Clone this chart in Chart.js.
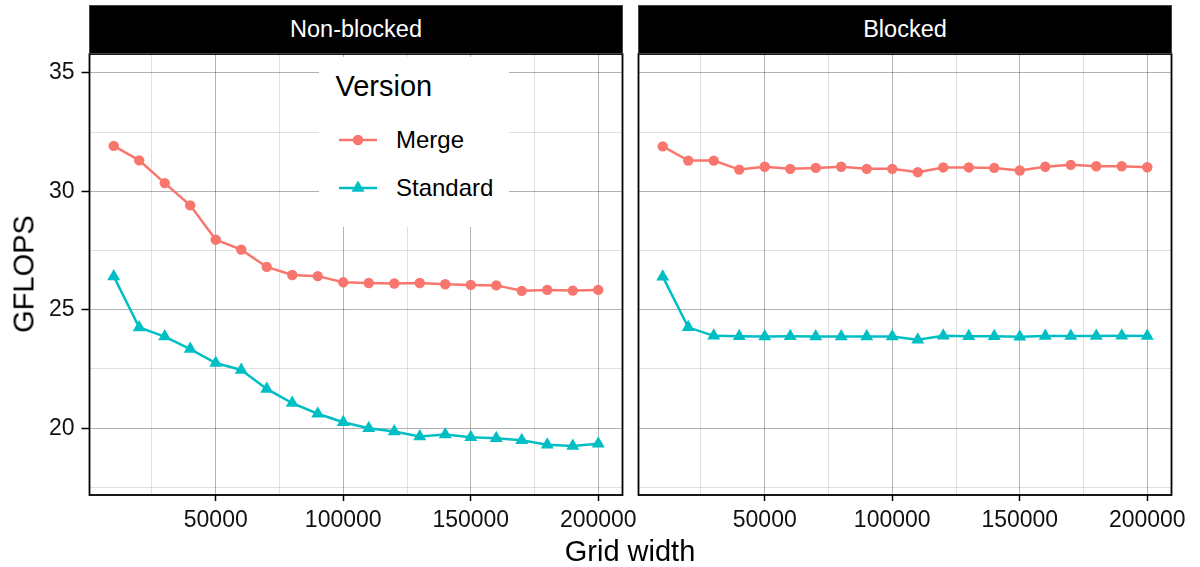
<!DOCTYPE html>
<html><head><meta charset="utf-8">
<script src="https://cdn.jsdelivr.net/npm/chart.js@4.4.1/dist/chart.umd.min.js"></script>
<style>
html,body{margin:0;padding:0;background:#fff;}
#wrap{position:relative;width:1200px;height:567px;overflow:hidden;font-family:'Liberation Sans',Arial,sans-serif;}
canvas{position:absolute;left:0;top:0;}
.txt{position:absolute;white-space:nowrap;color:#000;}
.strip{position:absolute;top:5px;height:49px;background:#000;color:#fff;box-sizing:border-box;border:1px solid #444;font-size:23.5px;line-height:47px;text-align:center;}
#legend{position:absolute;left:319px;top:57px;width:190px;height:170px;background:#fff;}
#legend .t{position:absolute;white-space:nowrap;color:#000;}
</style></head>
<body><div id="wrap">
<canvas id="c1" width="1200" height="567"></canvas>
<canvas id="c2" width="1200" height="567"></canvas>
<div class="strip" style="left:89px;width:534px;">Non-blocked</div>
<div class="strip" style="left:638px;width:534px;">Blocked</div>
<div id="legend">
  <div class="t" style="left:16.5px;top:15.2px;font-size:29px;line-height:29px;">Version</div>
  <svg style="position:absolute;left:0;top:0;" width="190" height="170">
    <line x1="20" y1="83" x2="58" y2="83" stroke="#F8766D" stroke-width="2.5"/>
    <circle cx="39" cy="83" r="5.2" fill="#F8766D"/>
    <line x1="20" y1="131" x2="58" y2="131" stroke="#00BFC4" stroke-width="2.5"/>
    <polygon points="39,123.5 45.5,134.75 32.5,134.75" fill="#00BFC4"/>
  </svg>
  <div class="t" style="left:77px;top:71px;font-size:24px;line-height:24px;">Merge</div>
  <div class="t" style="left:77px;top:119px;font-size:24px;line-height:24px;">Standard</div>
</div>
<div class="txt" style="left:24px;top:274px;font-size:29px;line-height:29px;transform:translate(-50%,-50%) rotate(-90deg);">GFLOPS</div>
<div class="txt" style="left:630px;top:537px;font-size:29px;line-height:29px;transform:translateX(-50%);">Grid width</div>
</div>
<script>
const gridWidth = [10000,20000,30000,40000,50000,60000,70000,80000,90000,100000,110000,120000,130000,140000,150000,160000,170000,180000,190000,200000];
const nonBlockedMerge = [31.92,31.31,30.35,29.41,27.96,27.54,26.81,26.47,26.42,26.16,26.13,26.11,26.13,26.08,26.05,26.03,25.80,25.84,25.81,25.84];
const nonBlockedStandard = [26.41,24.25,23.87,23.34,22.75,22.46,21.66,21.06,20.61,20.25,20.00,19.86,19.65,19.73,19.62,19.58,19.49,19.30,19.25,19.34];
const blockedMerge = [31.90,31.30,31.30,30.92,31.04,30.95,30.99,31.04,30.95,30.95,30.81,31.01,31.01,30.99,30.88,31.04,31.12,31.06,31.06,31.02];
const blockedStandard = [26.40,24.26,23.90,23.88,23.87,23.88,23.87,23.87,23.87,23.87,23.74,23.90,23.88,23.88,23.86,23.89,23.89,23.89,23.90,23.89];
const yMajor = [20,25,30,35];
const yMinor = [17.5,22.5,27.5,32.5];
const xMajor = [50000,100000,150000,200000];
const xMinor = [25000,75000,125000,175000];

const MERGE = '#F8766D', STD = '#00BFC4';
const FONT = "'Liberation Sans', Arial, sans-serif";
const MAJ = 'rgba(0,0,0,0.30)', MIN = 'rgba(0,0,0,0.12)';

function mkTicks(major, minor){
  return major.concat(minor).sort((a,b)=>a-b).map(v=>({value:v}));
}
const borderPlugin = {
  id:'panelBorder',
  afterDatasetsDraw(chart){
    const a = chart.chartArea, c = chart.ctx;
    c.save(); c.strokeStyle='#000'; c.lineWidth=1.8;
    c.strokeRect(a.left, a.top, a.right-a.left, a.bottom-a.top);
    c.restore();
  }
};

function makeChart(id, merge, std, showY, padLeft, padRight){
  return new Chart(document.getElementById(id), {
    type:'line',
    data:{datasets:[
      {label:'Merge', data: gridWidth.map((x,i)=>({x:x, y:merge[i]})), borderColor:MERGE, backgroundColor:MERGE,
       borderWidth:2.5, pointStyle:'circle', pointRadius:5.2, pointBorderWidth:0, pointBackgroundColor:MERGE, tension:0},
      {label:'Standard', data: gridWidth.map((x,i)=>({x:x, y:std[i]})), borderColor:STD, backgroundColor:STD,
       borderWidth:2.5, pointStyle:'triangle', pointRadius:7.5, pointBorderWidth:0, pointBackgroundColor:STD, tension:0}
    ]},
    options:{
      responsive:false, animation:false, events:[],
      layout:{padding:{left:padLeft, right:padRight, top:54, bottom:27}},
      plugins:{legend:{display:false}, tooltip:{enabled:false}},
      scales:{
        x:{type:'linear', min:500, max:209500,
          afterBuildTicks:s=>{s.ticks = mkTicks(xMajor,xMinor);},
          afterFit:s=>{s.height = 45;},
          border:{display:false},
          grid:{color:ctx=>xMajor.includes(ctx.tick && ctx.tick.value)?MAJ:MIN, lineWidth:1,
                drawTicks:true, tickLength:6,
                tickColor:ctx=>xMajor.includes(ctx.tick && ctx.tick.value)?'#000':'rgba(0,0,0,0)', tickWidth:1.5},
          ticks:{autoSkip:false, maxRotation:0, minRotation:0, padding:8, color:'#111',
                 font:{family:FONT, size:23, lineHeight:1},
                 callback:v=>xMajor.includes(v)?String(v):''}
        },
        y:{type:'linear', min:17.18, max:35.8,
          afterBuildTicks:s=>{s.ticks = mkTicks(yMajor,yMinor);},
          afterFit:s=>{s.width = showY?89.5:0;},
          border:{display:false},
          grid:{color:ctx=>yMajor.includes(ctx.tick && ctx.tick.value)?MAJ:MIN, lineWidth:1,
                drawTicks:showY, tickLength:8,
                tickColor:ctx=>yMajor.includes(ctx.tick && ctx.tick.value)?'#000':'rgba(0,0,0,0)', tickWidth:1.5},
          ticks:{display:showY, padding:7, color:'#111',
                 font:{family:FONT, size:23, lineHeight:1},
                 callback:v=>yMajor.includes(v)?String(v):''}
        }
      }
    },
    plugins:[borderPlugin]
  });
}
makeChart('c1', nonBlockedMerge, nonBlockedStandard, true, 0, 577.5);
makeChart('c2', blockedMerge, blockedStandard, false, 638.5, 28.5);
</script>
</body></html>
